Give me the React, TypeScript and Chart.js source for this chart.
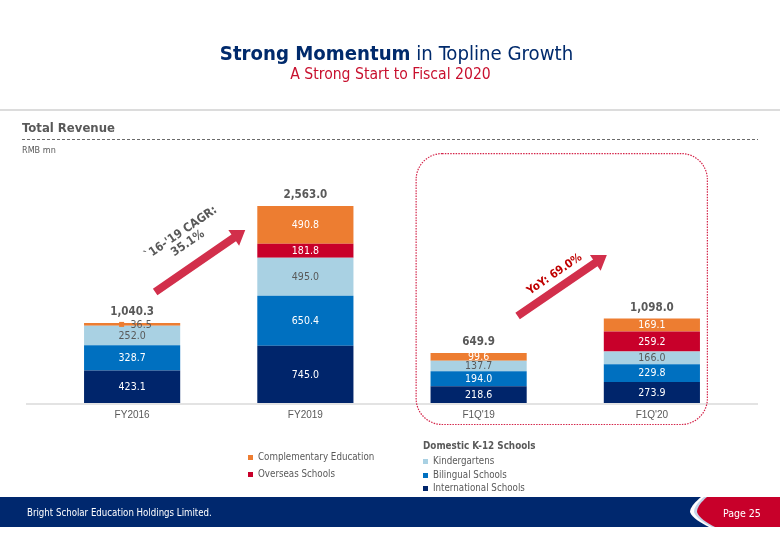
import React, { useEffect, useRef } from "react";
import { Chart, registerables } from "chart.js";
Chart.register(...registerables);

// ---------- data ----------
const categories = ["FY2016", "FY2019", "F1Q'19", "F1Q'20"];
const international = [423.1, 745.0, 218.6, 273.9];
const bilingual = [328.7, 650.4, 194.0, 229.8];
const kindergartens = [252.0, 495.0, 137.7, 166.0];
const overseas = [0, 181.8, 0, 259.2];
const complementary = [36.5, 490.8, 99.6, 169.1];
const totals = [1040.3, 2563.0, 649.9, 1098.0];
const seriesNames = [
  "International Schools",
  "Bilingual Schools",
  "Kindergartens",
  "Overseas Schools",
  "Complementary Education",
];
const cagrLabel = ["`16-'19 CAGR:", "35.1%"];
const yoyLabel = "YoY: 69.0%";

// ---------- styles ----------
const NAVY = "#00256b";
const BLUE = "#0070c0";
const LIGHT = "#a9d1e3";
const RED = "#c8002a";
const ORANGE = "#ed7d31";
const GRAY = "#595959";
const ARROW = "#d22f4b";
const seriesColors = [NAVY, BLUE, LIGHT, RED, ORANGE];
const labelColors = ["#ffffff", "#ffffff", GRAY, "#ffffff", "#ffffff"];
const FONT = "'DejaVu Sans Condensed', 'DejaVu Sans', sans-serif";

function fmt(v: number) {
  return v.toLocaleString("en-US", { minimumFractionDigits: 1, maximumFractionDigits: 1 });
}

function drawArrow(ctx: CanvasRenderingContext2D, x1: number, y1: number, x2: number, y2: number) {
  const ang = Math.atan2(y2 - y1, x2 - x1);
  const len = Math.hypot(x2 - x1, y2 - y1);
  const sw = 8, hl = 14, hw = 19;
  ctx.save();
  ctx.translate(x1, y1);
  ctx.rotate(ang);
  ctx.fillStyle = ARROW;
  ctx.beginPath();
  ctx.moveTo(0, -sw / 2);
  ctx.lineTo(len - hl, -sw / 2);
  ctx.lineTo(len - hl, -hw / 2);
  ctx.lineTo(len, 0);
  ctx.lineTo(len - hl, hw / 2);
  ctx.lineTo(len - hl, sw / 2);
  ctx.lineTo(0, sw / 2);
  ctx.closePath();
  ctx.fill();
  ctx.restore();
  return ang;
}

function drawRotatedText(
  ctx: CanvasRenderingContext2D, text: string, mx: number, my: number, ang: number,
  offset: number, font: string, color: string
) {
  ctx.save();
  ctx.translate(mx, my);
  ctx.rotate(ang);
  ctx.font = font;
  ctx.fillStyle = color;
  ctx.textAlign = "center";
  ctx.textBaseline = "middle";
  ctx.fillText(text, 0, -offset);
  ctx.restore();
}

const overlayPlugin = {
  id: "overlay",
  beforeDatasetsDraw(chart: any) {
    const { ctx, chartArea, scales } = chart;
    const xs = scales.x, ys = scales.y;
    ctx.save();
    ctx.strokeStyle = "#e3e3e3";
    ctx.lineWidth = 2;
    ctx.beginPath();
    ctx.moveTo(26, chartArea.bottom + 1);
    ctx.lineTo(758, chartArea.bottom + 1);
    ctx.stroke();
    const left = xs.getPixelForValue(2) - 63;
    const right = xs.getPixelForValue(3) + 55;
    const top = ys.getPixelForValue(3250);
    const bottom = chartArea.bottom + 21;
    ctx.strokeStyle = "#d4254a";
    ctx.lineWidth = 1.2;
    ctx.setLineDash([1.5, 1.2]);
    ctx.beginPath();
    ctx.roundRect(left + 0.5, top + 0.5, right - left, bottom - top, 26);
    ctx.stroke();
    ctx.setLineDash([]);
    ctx.restore();
  },
  afterDatasetsDraw(chart: any) {
    const { ctx, chartArea, scales } = chart;
    const xs = scales.x, ys = scales.y;
    ctx.save();
    chart.data.datasets.forEach((ds: any, di: number) => {
      const meta = chart.getDatasetMeta(di);
      meta.data.forEach((bar: any, i: number) => {
        const v = ds.data[i];
        if (!v) return;
        const h = bar.base - bar.y;
        const cy = (bar.y + bar.base) / 2;
        ctx.font = "10.5px " + FONT;
        ctx.textAlign = "center";
        ctx.textBaseline = "middle";
        if (h < 5) {
          ctx.fillStyle = seriesColors[di];
          ctx.fillRect(bar.x - 13, cy - 2.5, 5, 5);
          ctx.fillStyle = GRAY;
          ctx.fillText(fmt(v), bar.x + 9, cy + 1);
        } else {
          ctx.fillStyle = labelColors[di];
          ctx.fillText(fmt(v), bar.x, cy + 0.5);
        }
      });
    });
    totals.forEach((t, i) => {
      ctx.font = "bold 11.5px " + FONT;
      ctx.fillStyle = GRAY;
      ctx.textAlign = "center";
      ctx.textBaseline = "middle";
      ctx.fillText(fmt(t), xs.getPixelForValue(i), ys.getPixelForValue(t) - 11);
    });
    categories.forEach((c, i) => {
      ctx.font = "10px 'Liberation Sans', sans-serif";
      ctx.fillStyle = GRAY;
      ctx.textAlign = "center";
      ctx.textBaseline = "middle";
      ctx.fillText(c, xs.getPixelForValue(i), chartArea.bottom + 12);
    });
    const px = (c: number) => {
      const a = Math.floor(c);
      const f = c - a;
      const p0 = xs.getPixelForValue(a);
      const p1 = xs.getPixelForValue(Math.min(a + 1, categories.length - 1));
      return p0 + f * (p1 - p0);
    };
    const a1 = { x1: px(0.133), y1: ys.getPixelForValue(1443), x2: px(0.653), y2: ys.getPixelForValue(2250) };
    const ang1 = drawArrow(ctx, a1.x1, a1.y1, a1.x2, a1.y2);
    const m1x = (a1.x1 + a1.x2) / 2, m1y = (a1.y1 + a1.y2) / 2;
    drawRotatedText(ctx, cagrLabel[0], m1x, m1y, ang1, 34, "bold 12px " + FONT, GRAY);
    drawRotatedText(ctx, cagrLabel[1], m1x, m1y, ang1, 21.5, "bold 12px " + FONT, GRAY);
    const a2 = { x1: px(2.225), y1: ys.getPixelForValue(1131), x2: px(2.74), y2: ys.getPixelForValue(1925) };
    const ang2 = drawArrow(ctx, a2.x1, a2.y1, a2.x2, a2.y2);
    const m2x = (a2.x1 + a2.x2) / 2, m2y = (a2.y1 + a2.y2) / 2;
    drawRotatedText(ctx, yoyLabel, m2x, m2y, ang2, 13.5, "bold 11.5px " + FONT, "#c00000");
    ctx.restore();
  },
};

const abs = (s: React.CSSProperties): React.CSSProperties => ({ position: "absolute", whiteSpace: "nowrap", ...s });

function Legend() {
  const item = (idx: number, x: number, y: number) => (
    <div key={idx} style={abs({ left: x, top: y - 7, height: 14, lineHeight: "14px", fontSize: 9.7, color: GRAY, fontFamily: FONT })}>
      <span style={{ position: "absolute", left: -10, top: 5, width: 5, height: 5, background: seriesColors[idx] }} />
      {seriesNames[idx]}
    </div>
  );
  return (
    <>
      {item(4, 258, 457)}
      {item(3, 258, 474)}
      <div style={abs({ left: 423, top: 439, lineHeight: "14px", fontSize: 9.8, fontWeight: "bold", color: GRAY, fontFamily: FONT })}>
        Domestic K-12 Schools
      </div>
      {item(2, 433, 461)}
      {item(1, 433, 475)}
      {item(0, 433, 488)}
    </>
  );
}

export default function App() {
  const ref = useRef<HTMLCanvasElement>(null);
  useEffect(() => {
    document.body.style.margin = "0";
    const sets = [international, bilingual, kindergartens, overseas, complementary];
    const chart = new Chart(ref.current as HTMLCanvasElement, {
      type: "bar",
      data: {
        labels: categories,
        datasets: sets.map((d, i) => ({
          label: seriesNames[i],
          data: d,
          backgroundColor: seriesColors[i],
          borderWidth: 0,
          barPercentage: 0.555,
          categoryPercentage: 1,
        })),
      },
      options: {
        responsive: false,
        animation: false,
        devicePixelRatio: 1,
        layout: { padding: { left: 45.5, right: 41.5, top: 172.3, bottom: 137 } },
        plugins: { legend: { display: false }, tooltip: { enabled: false } },
        scales: {
          x: { stacked: true, display: false },
          y: { stacked: true, display: false, min: 0, max: 3000 },
        },
      },
      plugins: [overlayPlugin],
    });
    return () => chart.destroy();
  }, []);

  return (
    <div style={{ position: "absolute", left: 0, top: 0, width: 780, height: 540, background: "#fff", overflow: "hidden", fontFamily: FONT }}>
      <canvas ref={ref} width={780} height={540} style={{ position: "absolute", left: 0, top: 0, display: "block" }} />
      <div style={abs({ left: 396.5, top: 53, transform: "translate(-50%, -50%)", fontSize: 20.2, color: "#002a6c", lineHeight: "26px" })}>
        <b>Strong Momentum</b> in Topline Growth
      </div>
      <div style={abs({ left: 390.5, top: 74, transform: "translate(-50%, -50%)", fontSize: 15.6, color: "#c8102e", lineHeight: "20px" })}>
        A Strong Start to Fiscal 2020
      </div>
      <div style={abs({ left: 0, top: 109, width: 780, height: 2, background: "#dcdcdc" })} />
      <div style={abs({ left: 22, top: 120, fontSize: 13, fontWeight: "bold", color: GRAY, lineHeight: "16px" })}>Total Revenue</div>
      <svg width={780} height={540} style={{ position: "absolute", left: 0, top: 0, pointerEvents: "none" }}>
        <line x1={22} y1={139.5} x2={758} y2={139.5} stroke="#6a6a6a" strokeWidth={1} strokeDasharray="3,2" />
        <rect x={0} y={497} width={780} height={30} fill="#00286e" />
        <path d="M701 497 C694 503 690 508 690 512 C692 518 701 523 709 527 L780 527 L780 497 Z" fill="#ffffff" />
        <path d="M704 497 C697 503 694 508 694 512 C696 518 704 523 712 527 L780 527 L780 497 Z" fill="#c5d4e8" />
        <path d="M707 497 C700 503 697 508 697 512 C699 518 707 523 715 527 L780 527 L780 497 Z" fill="#c8002a" />
      </svg>
      <div style={abs({ left: 22, top: 144, fontSize: 9, color: GRAY, lineHeight: "12px" })}>RMB mn</div>
      <Legend />
      <div style={abs({ left: 27, top: 506, fontSize: 9.6, color: "#fff", lineHeight: "14px" })}>Bright Scholar Education Holdings Limited.</div>
      <div style={abs({ left: 723, top: 506, fontSize: 10.5, color: "#fff", lineHeight: "14px" })}>Page 25</div>
    </div>
  );
}
